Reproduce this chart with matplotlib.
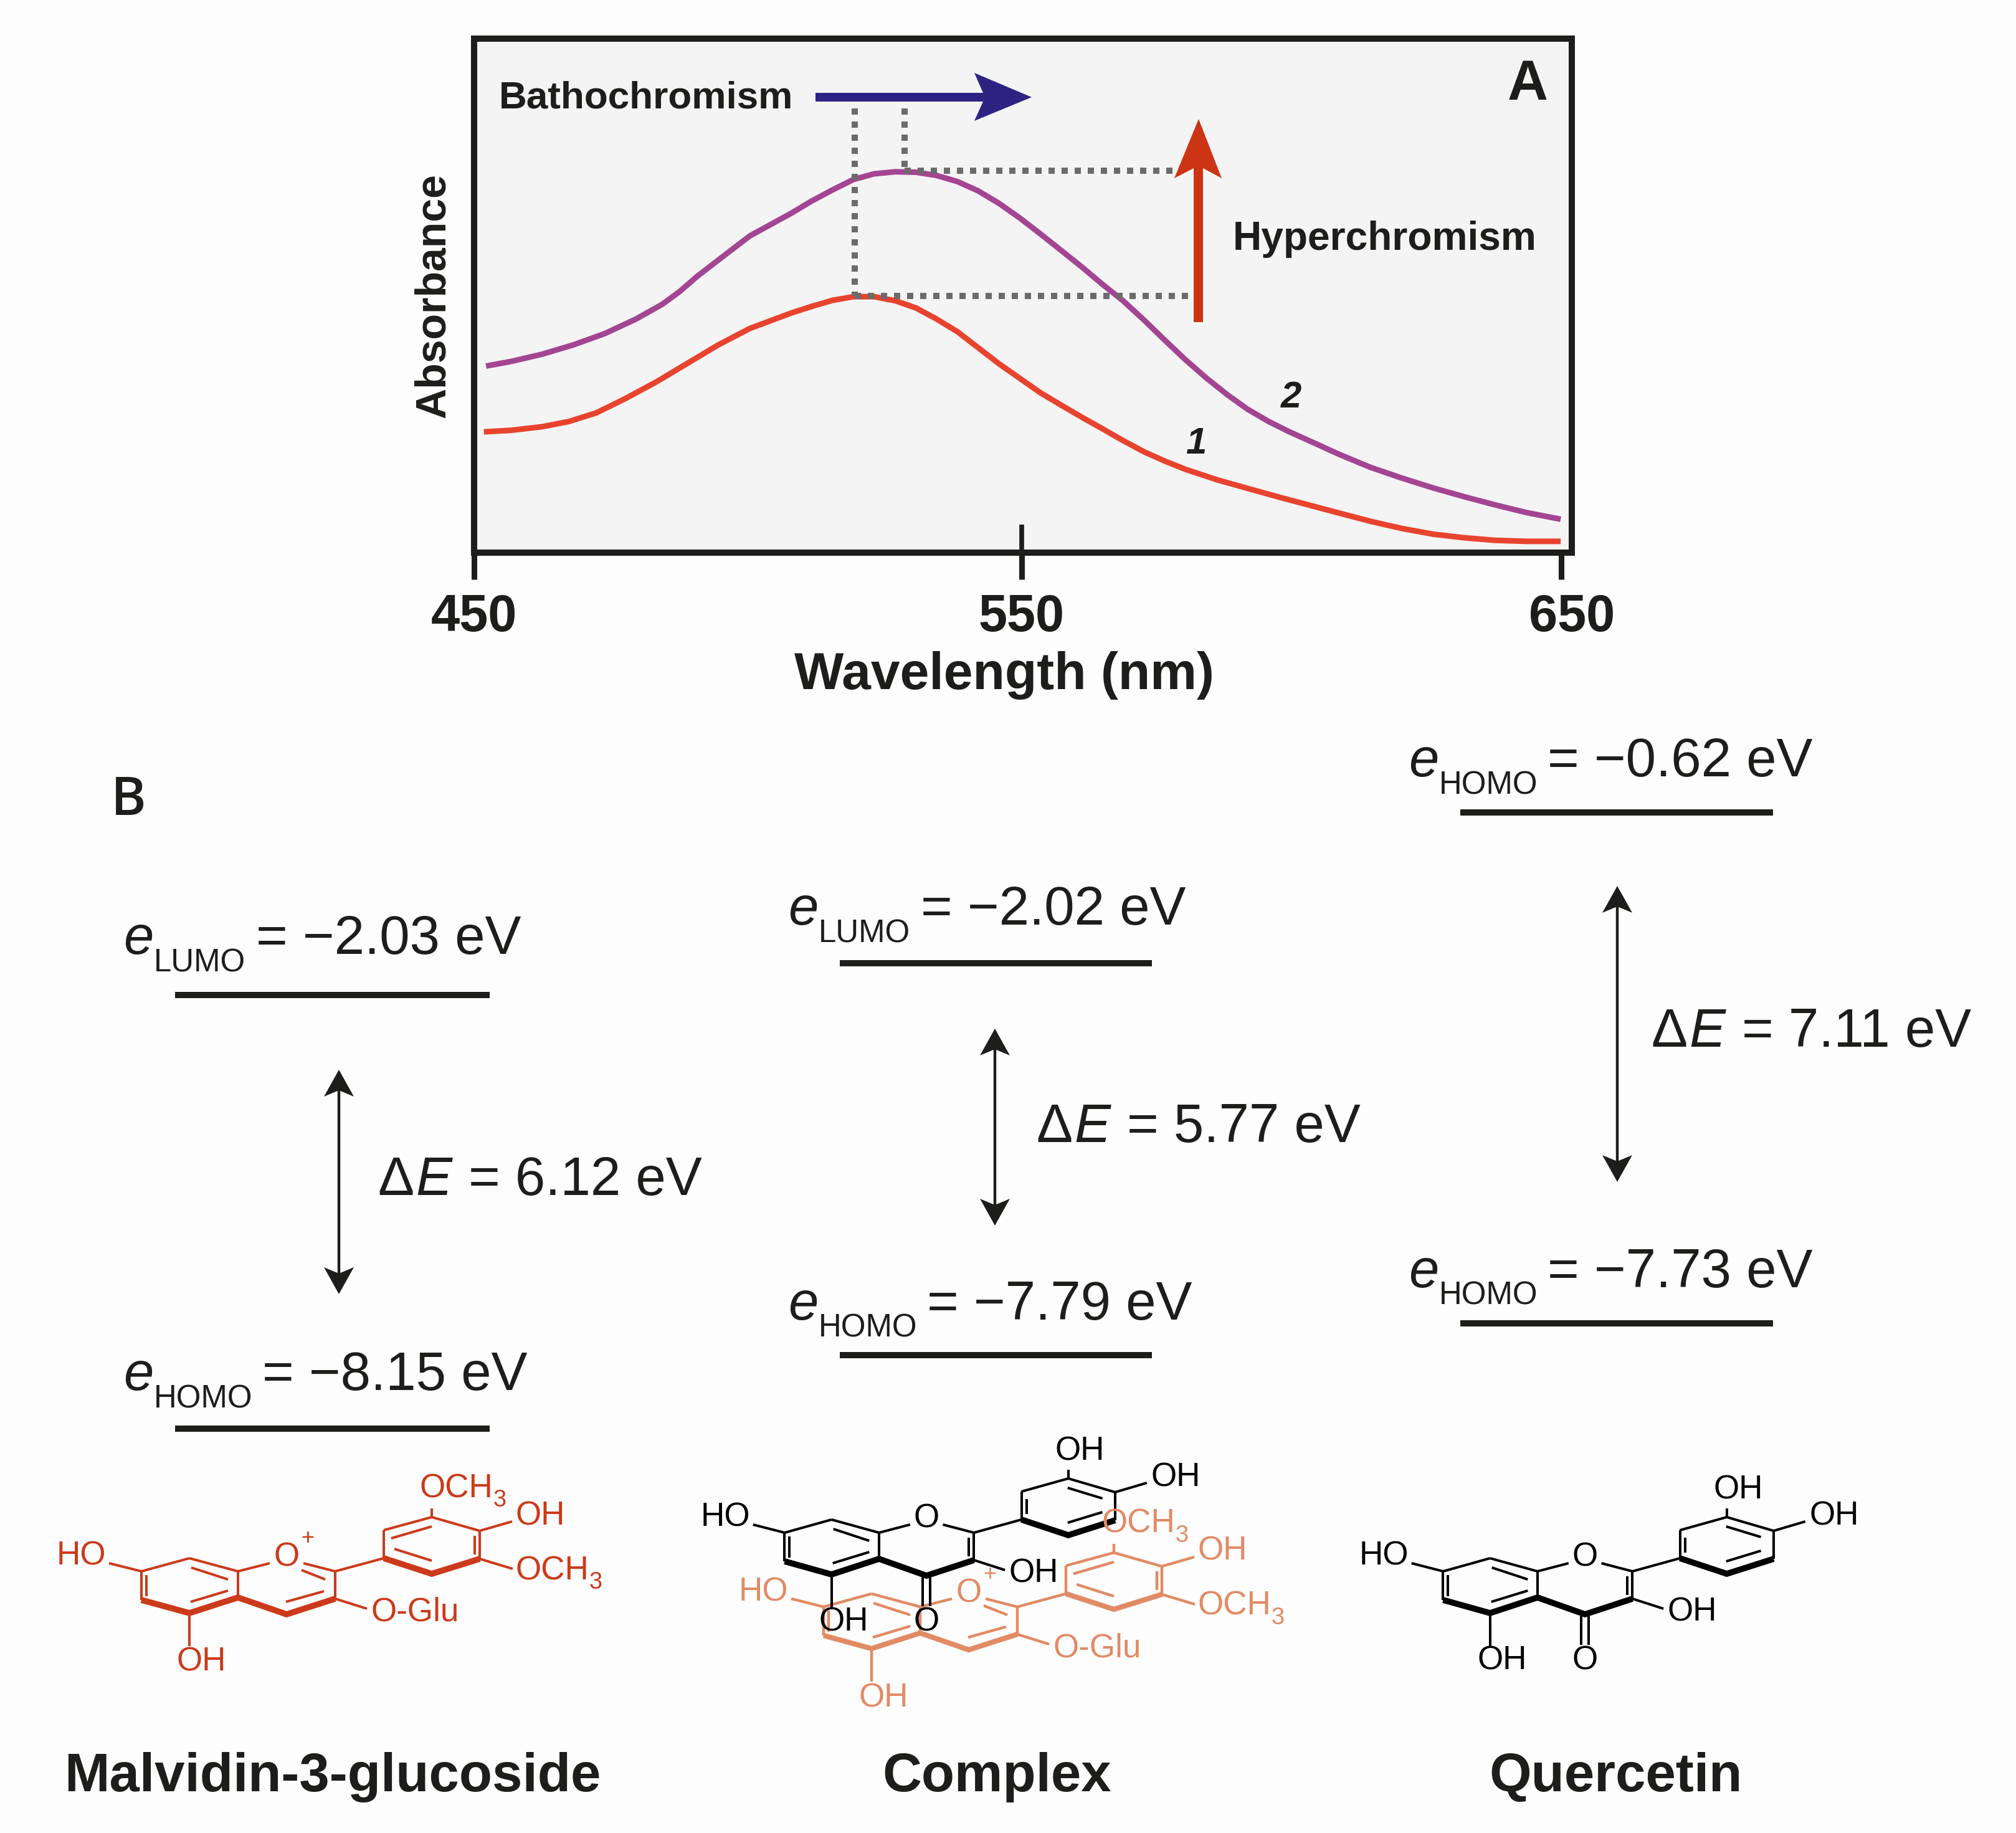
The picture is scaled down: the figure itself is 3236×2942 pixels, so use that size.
import matplotlib
matplotlib.use('Agg')
import matplotlib.pyplot as plt
from matplotlib.patches import Polygon
from matplotlib.transforms import ScaledTranslation

plt.rcParams['font.family'] = ['Liberation Sans', 'DejaVu Sans']

W, H = 3236, 2942
DARK = '#1D1D1B'
RED_CHEM = '#CB3A1A'
ORANGE_CHEM = '#E18B65'

# panel A, spectra
wl_1 = [451.8, 456.8, 462.5, 467.4, 472.5, 477.7, 483.5, 489.2, 494.9, 500.7, 508.3, 512.1, 516.0, 519.8,
        523.6, 527.5, 531.3, 535.0, 538.9, 542.7, 546.5, 550.4, 554.2, 558.0, 561.9, 565.6, 569.4, 573.3,
        577.1, 580.9, 586.6, 592.3, 598.1, 603.8, 609.5, 615.3, 620.7, 626.4, 632.1, 637.8, 643.6, 649.9]
abs_1 = [23.5, 23.8, 24.5, 25.5, 27.2, 29.9, 33.2, 36.8, 40.4, 43.6, 46.6, 47.9, 49.1, 49.8,
         49.8, 49.0, 47.6, 45.5, 43.0, 39.9, 36.8, 33.9, 31.1, 28.7, 26.3, 24.1, 21.8, 19.6,
         17.8, 16.2, 14.2, 12.5, 10.8, 9.2, 7.6, 6.0, 4.7, 3.6, 2.9, 2.4, 2.2, 2.2]
wl_2 = [452.2, 456.8, 462.5, 468.2, 474.0, 479.7, 484.6, 487.7, 491.1, 494.9, 500.7, 508.3, 512.1, 516.0, 519.8,
        523.6, 527.5, 531.3, 535.0, 538.9, 542.7, 546.5, 550.4, 554.2, 558.0, 561.9, 565.6, 569.4, 573.3,
        577.1, 580.9, 584.8, 588.6, 592.3, 596.2, 600.0, 603.8, 609.2, 614.9, 620.7, 626.4, 632.1, 637.8, 643.6, 649.9]
abs_2 = [36.3, 37.2, 38.6, 40.4, 42.6, 45.4, 48.3, 50.7, 53.8, 56.9, 61.6, 66.0, 68.4, 70.6, 72.6,
         73.7, 74.1, 74.0, 73.4, 72.2, 70.4, 68.0, 65.1, 62.0, 58.8, 55.5, 52.2, 49.0, 45.2,
         41.3, 37.5, 33.9, 30.7, 27.9, 25.5, 23.5, 21.7, 19.1, 16.6, 14.5, 12.6, 10.9, 9.3, 7.8, 6.5]
peak_x = [520.0, 529.2]
peak_y = [50.0, 74.3]
tick_pos = [450, 550.7, 650]
tick_labels = ['450', '550', '650']

# panel B, energy levels
names = ['Malvidin-3-glucoside', 'Complex', 'Quercetin']
name_x = [534, 1600, 2594]
bar_left = [281, 1348, 2344]
bar_right = [786, 1849, 2846]
upper_y = [1597, 1546, 1304]
lower_y = [2293, 2175, 2124]
upper_sub = ['LUMO', 'LUMO', 'HOMO']
lower_sub = ['HOMO', 'HOMO', 'HOMO']
upper_val = ['= \u22122.03 eV', '= \u22122.02 eV', '= \u22120.62 eV']
lower_val = ['= \u22128.15 eV', '= \u22127.79 eV', '= \u22127.73 eV']
upper_shift = [-4, 0, 4]
lower_shift = [0, 5, 4]
gap_val = ['= 6.12 eV', '= 5.77 eV', '= 7.11 eV']
gap_x = [544, 1597, 2596]
gap_top = [1717, 1651, 1422]
gap_bot = [2077, 1967, 1897]
gap_text_x = [606, 1663, 2650]
gap_text_y = [1918, 1833, 1680]

# molecule skeleton, atom positions in px for the malvidin drawing
atoms = {
    'a1': (227, 2522), 'a2': (304, 2501), 'a3': (382, 2522), 'a4': (382, 2564),
    'a5': (304, 2589), 'a6': (227, 2568), 'c2': (538, 2522), 'c3': (538, 2566),
    'c4': (460, 2591), 'b1': (616, 2501), 'b2': (616, 2456), 'b3': (693, 2435),
    'b4': (770, 2457), 'b5': (770, 2502), 'b6': (693, 2526),
    'o1': (433, 2509), 'o2': (487, 2509), 'ho': (175, 2509), 'oh5': (304, 2642),
    'o3': (589, 2582), 'sb3': (693, 2421), 'sb4': (822, 2442), 'sb5': (823, 2518),
}
thin_common = [('a1', 'a2'), ('a2', 'a3'), ('a3', 'a4'), ('a1', 'a6'), ('a3', 'o1'), ('o2', 'c2'),
               ('c2', 'c3'), ('c2', 'b1'), ('b1', 'b2'), ('b2', 'b3'), ('b3', 'b4'), ('b4', 'b5'),
               ('a1', 'ho'), ('a5', 'oh5'), ('c3', 'o3'), ('b3', 'sb3'), ('b4', 'sb4')]
inner_ring_a = [((307, 2516), (366, 2535)), ((306, 2571), (366, 2553)), ((235, 2528), (235, 2562))]
inner_malv = [((484, 2520), (522, 2535)), ((459, 2571), (520, 2554)), ((628, 2469), (693, 2450)),
              ((633, 2486), (693, 2505)), ((762, 2465), (762, 2495))]
inner_quer = [((529, 2530), (529, 2560)), ((625, 2468), (625, 2492)), ((692, 2450), (749, 2467)),
              ((692, 2506), (749, 2489)), ((454, 2594), (454, 2640)), ((466, 2594), (466, 2640))]
thick_a = ['a6', 'a5', 'a4', 'c4', 'c3']
thick_b = ['b1', 'b6', 'b5']

# text, x, baseline y, ha (malvidin frame)
malv_labels = [('HO', 130, 2512, 'center'), ('OH', 323, 2682, 'center'), ('O', 460, 2514, 'center'),
               ('O-Glu', 596, 2602, 'left'), ('OCH', 674, 2403, 'left'), ('OH', 828, 2447, 'left'),
               ('OCH', 828, 2535, 'left')]
# same for the quercetin drawing
quer_labels = [('HO', 2221, 2512, 'center'), ('OH', 2411, 2680, 'center'), ('O', 2544, 2680, 'center'),
               ('O', 2544, 2514, 'center'), ('OH', 2677, 2601, 'left'), ('OH', 2790, 2405, 'center'),
               ('OH', 2905, 2448, 'left')]


def px(v):
    # font size in points for an em of v pixels
    return v * 0.72


def draw_level(ax, i, y, sub, val, shift):
    ax.plot([bar_left[i], bar_right[i]], [y, y], color=DARK, lw=7.2, solid_capstyle='butt')
    ax.text(bar_left[i] - 83, y - 62 + shift, 'e', fontsize=px(87), style='italic', color=DARK, va='baseline')
    ax.text(bar_left[i] - 34, y - 34 + shift, sub, fontsize=px(51), color=DARK, va='baseline')
    eq = 130 if sub == 'LUMO' else 140
    ax.text(bar_left[i] + eq, y - 62 + shift, val, fontsize=px(87), color=DARK, va='baseline')


def draw_gap(ax, i):
    x, y0, y1 = gap_x[i], gap_top[i], gap_bot[i]
    ax.plot([x, x], [y0 + 20, y1 - 20], color=DARK, lw=3.2, solid_capstyle='butt')
    ax.add_patch(Polygon([(x, y0), (x + 24, y0 + 43), (x, y0 + 33), (x - 24, y0 + 43)], fc=DARK, ec='none'))
    ax.add_patch(Polygon([(x, y1), (x + 24, y1 - 43), (x, y1 - 33), (x - 24, y1 - 43)], fc=DARK, ec='none'))
    tx, ty = gap_text_x[i], gap_text_y[i]
    ax.text(tx, ty, '\u0394', fontsize=px(87), color=DARK, va='baseline')
    ax.text(tx + 61, ty, 'E', fontsize=px(87), style='italic', color=DARK, va='baseline')
    ax.text(tx + 146, ty, gap_val[i], fontsize=px(87), color=DARK, va='baseline')


def draw_molecule(ax, inner, color, dx=0, dy=0, x0=227, scale=1.0, bold_lw=7.0, thin_lw=2.9):
    def tr(p):
        return x0 + (p[0] - x0) * scale + dx, p[1] + dy

    for a, b in thin_common:
        p, q = tr(atoms[a]), tr(atoms[b])
        ax.plot([p[0], q[0]], [p[1], q[1]], color=color, lw=thin_lw, solid_capstyle='butt')
    for p, q in inner_ring_a + inner:
        p, q = tr(p), tr(q)
        ax.plot([p[0], q[0]], [p[1], q[1]], color=color, lw=thin_lw, solid_capstyle='butt')
    for chain in (thick_a, thick_b):
        pts = [tr(atoms[k]) for k in chain]
        ax.plot([p[0] for p in pts], [p[1] for p in pts], color=color, lw=bold_lw,
                solid_capstyle='butt', solid_joinstyle='miter')


def draw_labels(ax, labels, color, dx=0, dy=0):
    for txt, x, y, ha in labels:
        ax.text(x + dx, y + dy, txt, fontsize=px(53), color=color, ha=ha, va='baseline')
        if txt == 'OCH':
            ax.text(x + dx + 118, y + dy + 15, '3', fontsize=px(38), color=color, va='baseline')


def malvidin(ax, color, dx=0, dy=0, bold_lw=7.0, thin_lw=2.9):
    draw_molecule(ax, inner_malv, color, dx, dy, bold_lw=bold_lw, thin_lw=thin_lw)
    p, q = atoms['b5'], atoms['sb5']
    ax.plot([p[0] + dx, q[0] + dx], [p[1] + dy, q[1] + dy], color=color, lw=thin_lw, solid_capstyle='butt')
    draw_labels(ax, malv_labels, color, dx, dy)
    ax.text(494 + dx, 2470 + dy, '+', fontsize=px(36), color=color, ha='center', va='center')


def quercetin(ax, color, dx=0, dy=0):
    draw_molecule(ax, inner_quer, color, 2316.5 - 227 + dx, dy, scale=0.977)
    draw_labels(ax, quer_labels, color, dx, dy)


fig = plt.figure(figsize=(W / 100, H / 100), dpi=100, facecolor='#FDFDFD')

# panel A
left, right, top, bottom = 761, 2523, 62, 887
ax = fig.add_axes([left / W, 1 - bottom / H, (right - left) / W, (bottom - top) / H], facecolor='#F4F4F4')
ax.plot(wl_1, abs_1, color='#E8432E', lw=6.5, solid_capstyle='butt', solid_joinstyle='round')
ax.plot(wl_2, abs_2, color='#A34593', lw=6.5, solid_capstyle='butt', solid_joinstyle='round')

dots = dict(color='#6B6B6B', lw=7.2, linestyle=(0, (1, 1.1)), dash_capstyle='butt')
ax.plot([peak_x[0], peak_x[0]], [86.4, peak_y[0]], **dots)
ax.plot([peak_x[1], peak_x[1]], [86.4, peak_y[1]], **dots)
ax.plot([peak_x[1], 579.3], [peak_y[1], peak_y[1]], **dots)
ax.plot([peak_x[0], 581.5], [peak_y[0], peak_y[0]], **dots)

ax.set_xlim(450, 651.95)
ax.set_ylim(0, 100)
ax.set_yticks([])
ax.set_xticks(tick_pos)
ax.set_xticklabels(tick_labels, fontsize=px(83), fontweight='bold', color=DARK)
ax.tick_params(axis='x', length=31, width=6.5, color=DARK, pad=16)
lab = ax.get_xticklabels()[2]
lab.set_transform(lab.get_transform() + ScaledTranslation(0.17, 0, fig.dpi_scale_trans))
ax.vlines(tick_pos[1], 0, 5.4, color=DARK, lw=5.5, capstyle='butt')
for s in ax.spines.values():
    s.set_linewidth(7.2)
    s.set_color(DARK)
ax.set_xlabel('Wavelength (nm)', fontsize=px(84), fontweight='bold', color=DARK, va='baseline')
ax.xaxis.set_label_coords(0.483, -0.266)
ax.set_ylabel('Absorbance', fontsize=px(68), fontweight='bold', color=DARK, va='bottom')
ax.yaxis.set_label_coords(-0.019, 0.5)
ax.text(582.8, 21.1, '1', fontsize=px(60), fontweight='bold', style='italic', color=DARK, ha='center', va='center')
ax.text(600.3, 30.1, '2', fontsize=px(60), fontweight='bold', style='italic', color=DARK, ha='center', va='center')

# everything else in figure pixels
ov = fig.add_axes([0, 0, 1, 1], facecolor='none')
ov.set_xlim(0, W)
ov.set_ylim(H, 0)
ov.axis('off')

ov.text(801, 173, 'Bathochromism', fontsize=px(62), fontweight='bold', color=DARK, va='baseline')
ov.text(1979, 401, 'Hyperchromism', fontsize=px(64), fontweight='bold', color=DARK, va='baseline')
ov.text(2452, 136, 'A', fontsize=px(90), fontweight='bold', color=DARK, ha='center', va='center')
ov.text(178, 1308, 'B', fontsize=px(86), family='Open Sans', fontweight='semibold', color=DARK, va='baseline')

ov.add_patch(Polygon([(1309, 149), (1578, 149), (1564, 117), (1656, 156), (1564, 194), (1578, 163), (1309, 163)],
                     fc='#2E2383', ec='none'))
ov.add_patch(Polygon([(1916, 517), (1916, 270), (1885, 286), (1924, 191), (1961, 286), (1931, 270), (1931, 517)],
                     fc='#CB3513', ec='none'))

for i in range(3):
    draw_level(ov, i, upper_y[i], upper_sub[i], upper_val[i], upper_shift[i])
    draw_level(ov, i, lower_y[i], lower_sub[i], lower_val[i], lower_shift[i])
    draw_gap(ov, i)
    ov.text(name_x[i], 2875, names[i], fontsize=px(87), fontweight='bold', color=DARK, ha='center', va='baseline')

malvidin(ov, RED_CHEM)
malvidin(ov, ORANGE_CHEM, dx=1095, dy=57, bold_lw=6.0, thin_lw=3.2)
quercetin(ov, 'black', dx=-1057, dy=-62)
quercetin(ov, 'black')

fig.savefig('out.png', dpi=100, facecolor=fig.get_facecolor())
